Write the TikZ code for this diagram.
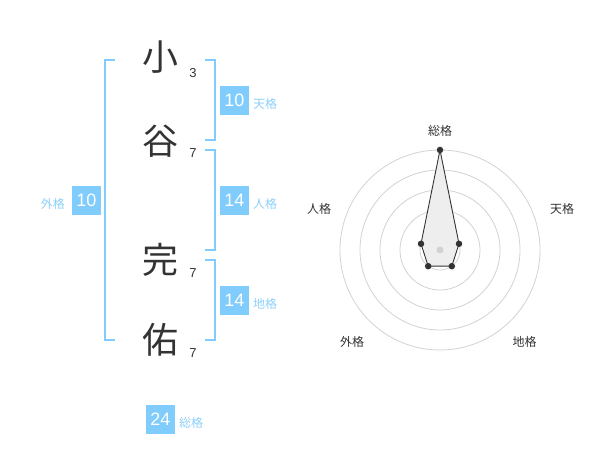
\documentclass[tikz,border=0pt]{standalone}
\usepackage{fontspec}
\setmainfont{Liberation Sans}
\newfontfamily\cjk{Noto Sans CJK JP}
\definecolor{skyb}{RGB}{128,204,252}
\definecolor{skyt}{RGB}{140,208,250}
\definecolor{ink}{RGB}{51,51,51}
\definecolor{ringc}{RGB}{210,210,210}
\definecolor{areac}{RGB}{238,238,238}
\begin{document}
\begin{tikzpicture}[x=1pt,y=-1pt,
  kanji/.style={font=\cjk\fontsize{36}{36}\selectfont, text=ink, inner sep=0pt},
  strokes/.style={font=\fontsize{13}{13}\selectfont, text=ink, inner sep=0pt},
  numbox/.style={fill=skyb, text=white, minimum width=29pt, minimum height=29pt, inner sep=0pt, font=\fontsize{18}{18}\selectfont},
  kaku/.style={font=\cjk\fontsize{12}{12}\selectfont, text=skyt, inner sep=0pt},
  brk/.style={draw=skyb, line width=2pt},
  radlab/.style={font=\cjk\fontsize{12}{12}\selectfont, text=ink, inner sep=0pt},
  ring/.style={draw=ringc, line width=0.8pt},
  area/.style={draw=ink, fill=areac, line width=0.9pt, line join=round},
  vdot/.style={circle, fill=ink, inner sep=0pt, minimum size=6.5pt}]
\useasboundingbox (0,0) rectangle (600,470);
% kanji
\node[kanji] (k1) at (160,57) {小};
\node[kanji] (k2) at (160,141) {谷};
\node[kanji] (k3) at (160,260) {完};
\node[kanji] (k4) at (160,340) {佑};
\node[strokes] (s1) at (193,73) {3};
\node[strokes] (s2) at (193,153) {7};
\node[strokes] (s3) at (193,273) {7};
\node[strokes] (s4) at (193,353) {7};
% brackets
\draw[brk] (115,60) -- (105,60) -- (105,340) -- (115,340);
\draw[brk] (205,60) -- (215,60) -- (215,140) -- (205,140);
\draw[brk] (205,150) -- (215,150) -- (215,250) -- (205,250);
\draw[brk] (205,260) -- (215,260) -- (215,340) -- (205,340);
% boxes
\node[numbox] (ten) at (234.5,100.5) {10};
\node[kaku, anchor=west] (tenl) at (253,104) {天格};
\node[numbox] (jin) at (234.5,200.5) {14};
\node[kaku, anchor=west] (jinl) at (253,204) {人格};
\node[numbox] (chi) at (234.5,300.5) {14};
\node[kaku, anchor=west] (chil) at (253,304) {地格};
\node[numbox] (gai) at (86.5,200.5) {10};
\node[kaku, anchor=east] (gail) at (65,204) {外格};
\node[numbox] (sou) at (160.5,419.5) {24};
\node[kaku, anchor=west] (soul) at (179,423) {総格};
% radar
\coordinate (c) at (440,250);
\foreach \r in {20,40,60,80,100} \draw[ring] (c) circle[radius=\r];
\coordinate (q1) at (440,150);
\coordinate (q2) at (459.0,243.8);
\coordinate (q3) at (451.8,266.2);
\coordinate (q4) at (428.2,266.2);
\coordinate (q5) at (421.0,243.8);
\draw[area] (q1) -- (q2) -- (q3) -- (q4) -- (q5) -- cycle;
\fill[ringc] (c) circle[radius=3.5];
\foreach \q in {q1,q2,q3,q4,q5} \node[vdot] (d\q) at (\q) {};
\node[radlab] (r1) at (440,130.5) {総格};
\node[radlab] (r2) at (562,208.5) {天格};
\node[radlab] (r3) at (524.5,342) {地格};
\node[radlab] (r4) at (352,342) {外格};
\node[radlab] (r5) at (319,208.5) {人格};
\end{tikzpicture}
\end{document}
